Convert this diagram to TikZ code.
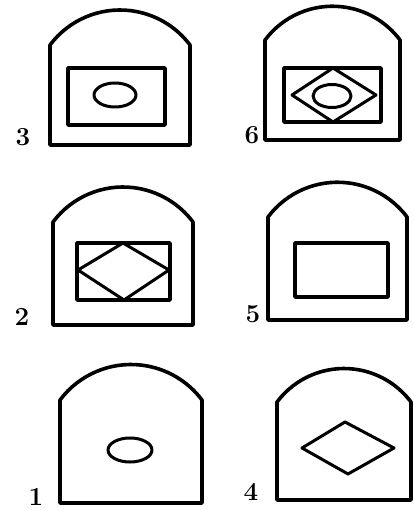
\documentclass[tikz,border=0pt]{standalone}
\usepackage{tikz}
\usetikzlibrary{positioning}

\begin{document}
\begin{tikzpicture}[x=1pt,y=-1pt,line join=round]
\tikzstyle{slab}=[draw=black,line width=3.6pt]
\tikzstyle{frame}=[draw=black,line width=3.4pt]
\tikzstyle{lozenge}=[draw=black,line width=3pt]
\tikzstyle{ring}=[draw=black,line width=3pt]
\tikzstyle{num}=[font=\fontsize{26}{26}\selectfont\bfseries,inner sep=0pt]
\useasboundingbox (0,0) rectangle (413,511);
% top row
\draw[slab] (50,145) -- (50,45) arc[start angle=216.87,end angle=323.13,radius=87.5] -- (190,145) -- cycle;
\draw[frame] (68,68) rectangle (165,125);
\draw[ring] (115,95) ellipse[x radius=21,y radius=12];
\node[num] (n3) at (23,137) {3};
\draw[slab] (265,140) -- (265,40) arc[start angle=216.87,end angle=323.13,radius=84.4] -- (400,140) -- cycle;
\draw[frame] (284,68) rectangle (381,122);
\draw[lozenge] (333,68) -- (292,95) -- (333,122) -- (376,95) -- cycle;
\draw[ring] (332,96) ellipse[x radius=19,y radius=11.5];
\node[num] (n6) at (252,135) {6};
% middle row
\draw[slab] (53,325) -- (53,222) arc[start angle=216.87,end angle=323.13,radius=87.5] -- (193,325) -- cycle;
\draw[frame] (77,243) rectangle (170,300);
\draw[lozenge] (123,243) -- (78,270) -- (124,300) -- (169,270) -- cycle;
\node[num] (n2) at (22,317) {2};
\draw[slab] (268,320) -- (268,217) arc[start angle=216.87,end angle=323.13,radius=86.9] -- (407,320) -- cycle;
\draw[frame] (295,243) rectangle (388,297);
\node[num] (n5) at (253,314) {5};
% bottom row
\draw[slab] (60,503) -- (60,400) arc[start angle=216.87,end angle=323.13,radius=88.75] -- (202,503) -- cycle;
\draw[ring] (130,450) ellipse[x radius=22,y radius=12];
\node[num] (n1) at (36,497) {1};
\draw[slab] (277,500) -- (277,402) arc[start angle=216.87,end angle=323.13,radius=83.75] -- (411,500) -- cycle;
\draw[lozenge] (345,422) -- (302,448) -- (348,474) -- (394,448) -- cycle;
\node[num] (n4) at (251,492) {4};
\end{tikzpicture}
\end{document}
